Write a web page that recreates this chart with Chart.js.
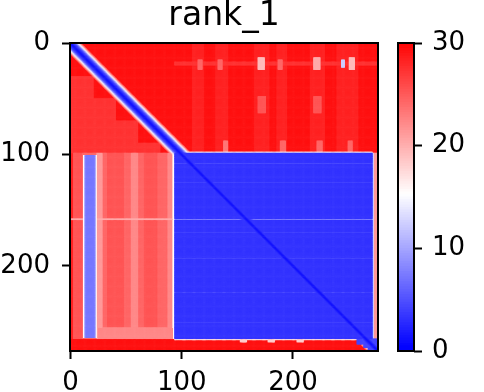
<!DOCTYPE html>
<html>
<head>
<meta charset="utf-8">
<script src="https://cdn.jsdelivr.net/npm/chart.js@4.4.1/dist/chart.umd.min.js"></script>
<style>
  body { margin: 0; background: #fff; }
  #wrap { position: relative; width: 484px; height: 392px; }
  #pae { position: absolute; left: 0; top: 0; }
  #cbar { position: absolute; left: 380px; top: 0; }
</style>
</head>
<body>
<div id="wrap">
  <canvas id="pae" width="484" height="392"></canvas>
  <canvas id="cbar" width="104" height="392"></canvas>
</div>
<script>
// residues 0..276, PAE in Angstrom (0..30)
const N = 277;
const paeMax = 30;
const baseValue = 29;
const axisTicks = [0, 100, 200];
const cbarTicks = [0, 10, 20, 30];

// PAE by distance from the diagonal |i - j|
const diagBand = [1, 2, 3, 4, 6, 9, 13, 17, 21, 24];

// [rowFrom, rowTo, colFrom, colTo, pae]  (inclusive, painted in order)
const armPatches = [
  [0, 98, 0, 276, 29],
  [30, 98, 0, 20, 27], [50, 98, 20, 40, 27], [70, 98, 40, 60, 27], [90, 98, 60, 80, 27],
  [0, 98, 110, 119, 28], [0, 98, 131, 141, 28], [0, 98, 166, 178, 28],
  [0, 98, 186, 194, 28], [0, 98, 216, 228, 28], [0, 98, 240, 258, 28],
  [17, 19, 94, 276, 27],
  [15, 23, 115, 118, 24], [15, 23, 133, 136, 24], [13, 23, 169, 174, 19],
  [15, 23, 187, 190, 24], [13, 23, 219, 224, 20], [15, 21, 244, 246, 12],
  [13, 23, 251, 255, 19],
  [48, 62, 169, 175, 25], [48, 62, 219, 225, 25],
  [88, 97, 138, 141, 23], [88, 97, 189, 193, 24], [88, 97, 222, 226, 24],
  [88, 97, 250, 253, 24]
];

const lowerLeftPatches = [
  [99, 265, 0, 93, 24],
  [99, 265, 0, 2, 28], [99, 265, 3, 10, 25], [99, 265, 24, 28, 21],
  [99, 265, 33, 48, 25], [99, 265, 55, 60, 22], [99, 265, 66, 78, 25],
  [99, 265, 88, 91, 22], [99, 265, 92, 93, 18],
  [256, 265, 25, 93, 22],
  [158, 158, 0, 93, 20],
  [101, 264, 12, 12, 15], [101, 264, 13, 13, 10], [101, 264, 14, 21, 7],
  [101, 264, 22, 22, 10], [101, 264, 23, 23, 16]
];

const corePatches = [
  [266, 276, 0, 276, 29],
  [99, 265, 94, 271, 3],
  [108, 108, 94, 271, 6], [125, 125, 94, 271, 5], [170, 170, 94, 271, 5],
  [193, 193, 94, 271, 6], [224, 224, 94, 271, 5], [251, 251, 94, 271, 5],
  [158, 158, 94, 271, 14],
  [98, 98, 94, 271, 16], [99, 265, 93, 93, 15], [266, 266, 94, 271, 17],
  [99, 265, 272, 272, 12], [99, 265, 273, 276, 21],
  [266, 268, 153, 158, 18], [266, 268, 178, 183, 18], [266, 268, 204, 209, 18],
  [266, 270, 258, 276, 4], [271, 273, 264, 276, 4], [274, 276, 268, 276, 4]
];

function bwr(v) {
  const t = Math.max(0, Math.min(1, v / paeMax));
  if (t < 0.5) {
    const c = Math.round(510 * t);
    return 'rgb(' + c + ',' + c + ',255)';
  }
  const c = Math.round(510 * (1 - t));
  return 'rgb(255,' + c + ',' + c + ')';
}

const pae = [];
for (let i = 0; i < N; i++) pae.push(new Array(N).fill(baseValue));
[].concat(armPatches, lowerLeftPatches, corePatches).forEach(p => {
  for (let i = p[0]; i <= p[1]; i++)
    for (let j = p[2]; j <= p[3]; j++) pae[i][j] = p[4];
});
for (let i = 0; i < N; i++) {
  for (let j = 0; j < N; j++) {
    const d = Math.abs(i - j);
    if (d < diagBand.length) pae[i][j] = Math.min(pae[i][j], diagBand[d]);
  }
}

// one dataset per colour level
const groups = {};
for (let i = 0; i < N; i++)
  for (let j = 0; j < N; j++) {
    const v = pae[i][j];
    (groups[v] = groups[v] || []).push({ x: j, y: i });
  }

const tickFont = { family: 'DejaVu Sans', size: 26 };

const frame = {
  id: 'frame',
  afterDraw(chart) {
    const { ctx, chartArea: a } = chart;
    ctx.save();
    ctx.strokeStyle = '#000';
    ctx.lineWidth = 2;
    ctx.strokeRect(a.left, a.top, a.right - a.left, a.bottom - a.top);
    ctx.restore();
  }
};

new Chart(document.getElementById('pae'), {
  type: 'scatter',
  data: {
    datasets: Object.keys(groups).map(v => ({
      data: groups[v],
      pointStyle: 'rect',
      pointRadius: 1.2,
      pointHoverRadius: 1.2,
      pointBorderWidth: 0,
      pointBackgroundColor: bwr(+v),
      clip: 0
    }))
  },
  options: {
    responsive: false,
    animation: false,
    events: [],
    parsing: false,
    normalized: true,
    layout: { padding: { left: 0, right: 106, top: 0, bottom: 0 } },
    plugins: {
      legend: { display: false },
      tooltip: { enabled: false },
      title: {
        display: true,
        text: 'rank_1',
        fullSize: false,
        color: '#000',
        font: { family: 'DejaVu Sans', size: 33, weight: 'normal', lineHeight: 1 },
        padding: { top: 0, bottom: 10 }
      }
    },
    scales: {
      x: {
        type: 'linear',
        min: -0.5,
        max: N - 0.5,
        position: 'bottom',
        afterBuildTicks: s => { s.ticks = axisTicks.map(v => ({ value: v })); },
        afterFit: s => { s.height = 41; },
        ticks: { font: tickFont, color: '#000', padding: 9, maxRotation: 0, autoSkip: false },
        grid: { drawOnChartArea: false, tickLength: 8, color: '#000', tickWidth: 2 },
        border: { display: false }
      },
      y: {
        type: 'linear',
        min: -0.5,
        max: N - 0.5,
        reverse: true,
        afterBuildTicks: s => { s.ticks = axisTicks.map(v => ({ value: v })); },
        afterFit: s => { s.width = 70; },
        ticks: { font: tickFont, color: '#000', padding: 12, autoSkip: false },
        grid: { drawOnChartArea: false, tickLength: 8, color: '#000', tickWidth: 2 },
        border: { display: false }
      }
    }
  },
  plugins: [frame]
});

// colour bar
const cbarStep = 0.25;
const cbarSegments = [];
for (let v = 0; v < paeMax; v += cbarStep) cbarSegments.push(v);

new Chart(document.getElementById('cbar'), {
  type: 'bar',
  data: {
    labels: [''],
    datasets: cbarSegments.map(v => ({
      data: [[v, Math.min(v + 2 * cbarStep, paeMax)]],
      backgroundColor: bwr(v + cbarStep / 2),
      borderWidth: 0,
      barPercentage: 1,
      categoryPercentage: 1
    }))
  },
  options: {
    responsive: false,
    animation: false,
    events: [],
    layout: { padding: { left: 18, right: 0, top: 43, bottom: 41 } },
    plugins: { legend: { display: false }, tooltip: { enabled: false } },
    scales: {
      x: { display: false, stacked: true },
      y: {
        position: 'right',
        min: 0,
        max: paeMax,
        stacked: false,
        afterBuildTicks: s => { s.ticks = cbarTicks.map(v => ({ value: v })); },
        afterFit: s => { s.width = 70; },
        ticks: { font: tickFont, color: '#000', padding: 10 },
        grid: { drawOnChartArea: false, tickLength: 8, color: '#000', tickWidth: 2 },
        border: { display: false }
      }
    }
  },
  plugins: [frame]
});
</script>
</body>
</html>
